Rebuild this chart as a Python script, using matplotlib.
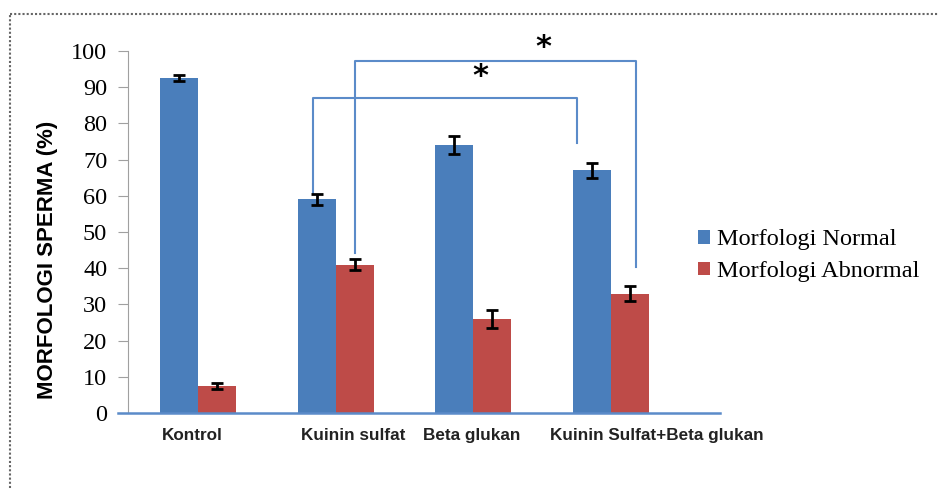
import matplotlib.pyplot as plt
import numpy as np

# Morfologi sperma per kelompok perlakuan (%)
groups = ["Kontrol", "Kuinin sulfat", "Beta glukan", "Kuinin Sulfat+Beta glukan"]
normal = [92.5, 59, 74, 67]
normal_err = [0.8, 1.6, 2.5, 2.0]
abnormal = [7.5, 41, 26, 33]
abnormal_err = [0.8, 1.6, 2.5, 2.0]
series_labels = ["Morfologi Normal", "Morfologi Abnormal"]
yticks = [0, 10, 20, 30, 40, 50, 60, 70, 80, 90, 100]

blue = "#4a7ebb"
red = "#be4b48"
line_blue = "#5b8bc9"

fig = plt.figure(figsize=(9.39, 4.88), dpi=100)
ax = fig.add_axes([0.1363, 0.1537, 0.6305, 0.7418])

x = np.arange(len(groups))
w = 0.276
ax.bar(x - w / 2, normal, w, color=blue, label=series_labels[0], zorder=2)
ax.bar(x + w / 2, abnormal, w, color=red, label=series_labels[1], zorder=2)
ax.errorbar(x - w / 2, normal, yerr=normal_err, fmt="none", ecolor="black",
            elinewidth=2, capsize=4, capthick=2, zorder=3)
ax.errorbar(x + w / 2, abnormal, yerr=abnormal_err, fmt="none", ecolor="black",
            elinewidth=2, capsize=4, capthick=2, zorder=3)

ax.set_xlim(-0.508, 3.79)
ax.set_ylim(0, 100)
ax.set_yticks(yticks)
ax.set_yticklabels([str(t) for t in yticks], family="Liberation Serif", fontsize=17.5)
ax.tick_params(axis="y", direction="out", length=7, color="#a0a0a0", pad=8)

# category labels sit a little off the group centres
ax.set_xticks([-0.04, 1.13, 1.99, 3.33])
ax.set_xticklabels(groups, family="Liberation Sans", fontweight="bold",
                   fontsize=12.3, color="#222222")
ax.tick_params(axis="x", length=0, pad=11)

for s in ["top", "right"]:
    ax.spines[s].set_visible(False)
ax.spines["left"].set_color("#a0a0a0")
ax.spines["bottom"].set_visible(False)
ax.plot([-0.58, 3.79], [0, 0], color=line_blue, lw=1.8, clip_on=False, zorder=4)

ax.set_ylabel("MORFOLOGI SPERMA (%)", family="Liberation Sans", fontweight="bold",
              fontsize=16)
ax.yaxis.set_label_coords(-0.118, 0.423)

# significance brackets
ax.plot([0.835, 0.835, 2.75, 2.75], [60.8, 87.0, 87.0, 74.6],
        color=line_blue, lw=1.5, clip_on=False, zorder=1)
ax.plot([1.14, 1.14, 3.18, 3.18], [44.2, 97.2, 97.2, 40.3],
        color=line_blue, lw=1.5, clip_on=False, zorder=1)
ax.text(2.05, 93.0, "*", ha="center", va="center", fontsize=22,
        fontweight="bold", clip_on=False)
ax.text(2.51, 101.0, "*", ha="center", va="center", fontsize=22,
        fontweight="bold", clip_on=False)

leg = fig.legend(loc="center left", bbox_to_anchor=(0.72, 0.476), frameon=False,
                 prop={"family": "Liberation Serif", "size": 17.5},
                 handlelength=0.5, handleheight=0.5, handletextpad=0.3,
                 labelspacing=0.45)

# dotted page border
fig.add_artist(plt.Line2D([0.011, 1.0], [0.971, 0.971], color="#666666",
                          lw=1.5, ls=(0, (1, 1)), transform=fig.transFigure))
fig.add_artist(plt.Line2D([0.011, 0.011], [0.0, 0.971], color="#666666",
                          lw=1.5, ls=(0, (1, 1)), transform=fig.transFigure))

fig.savefig("out.png", dpi=100)
